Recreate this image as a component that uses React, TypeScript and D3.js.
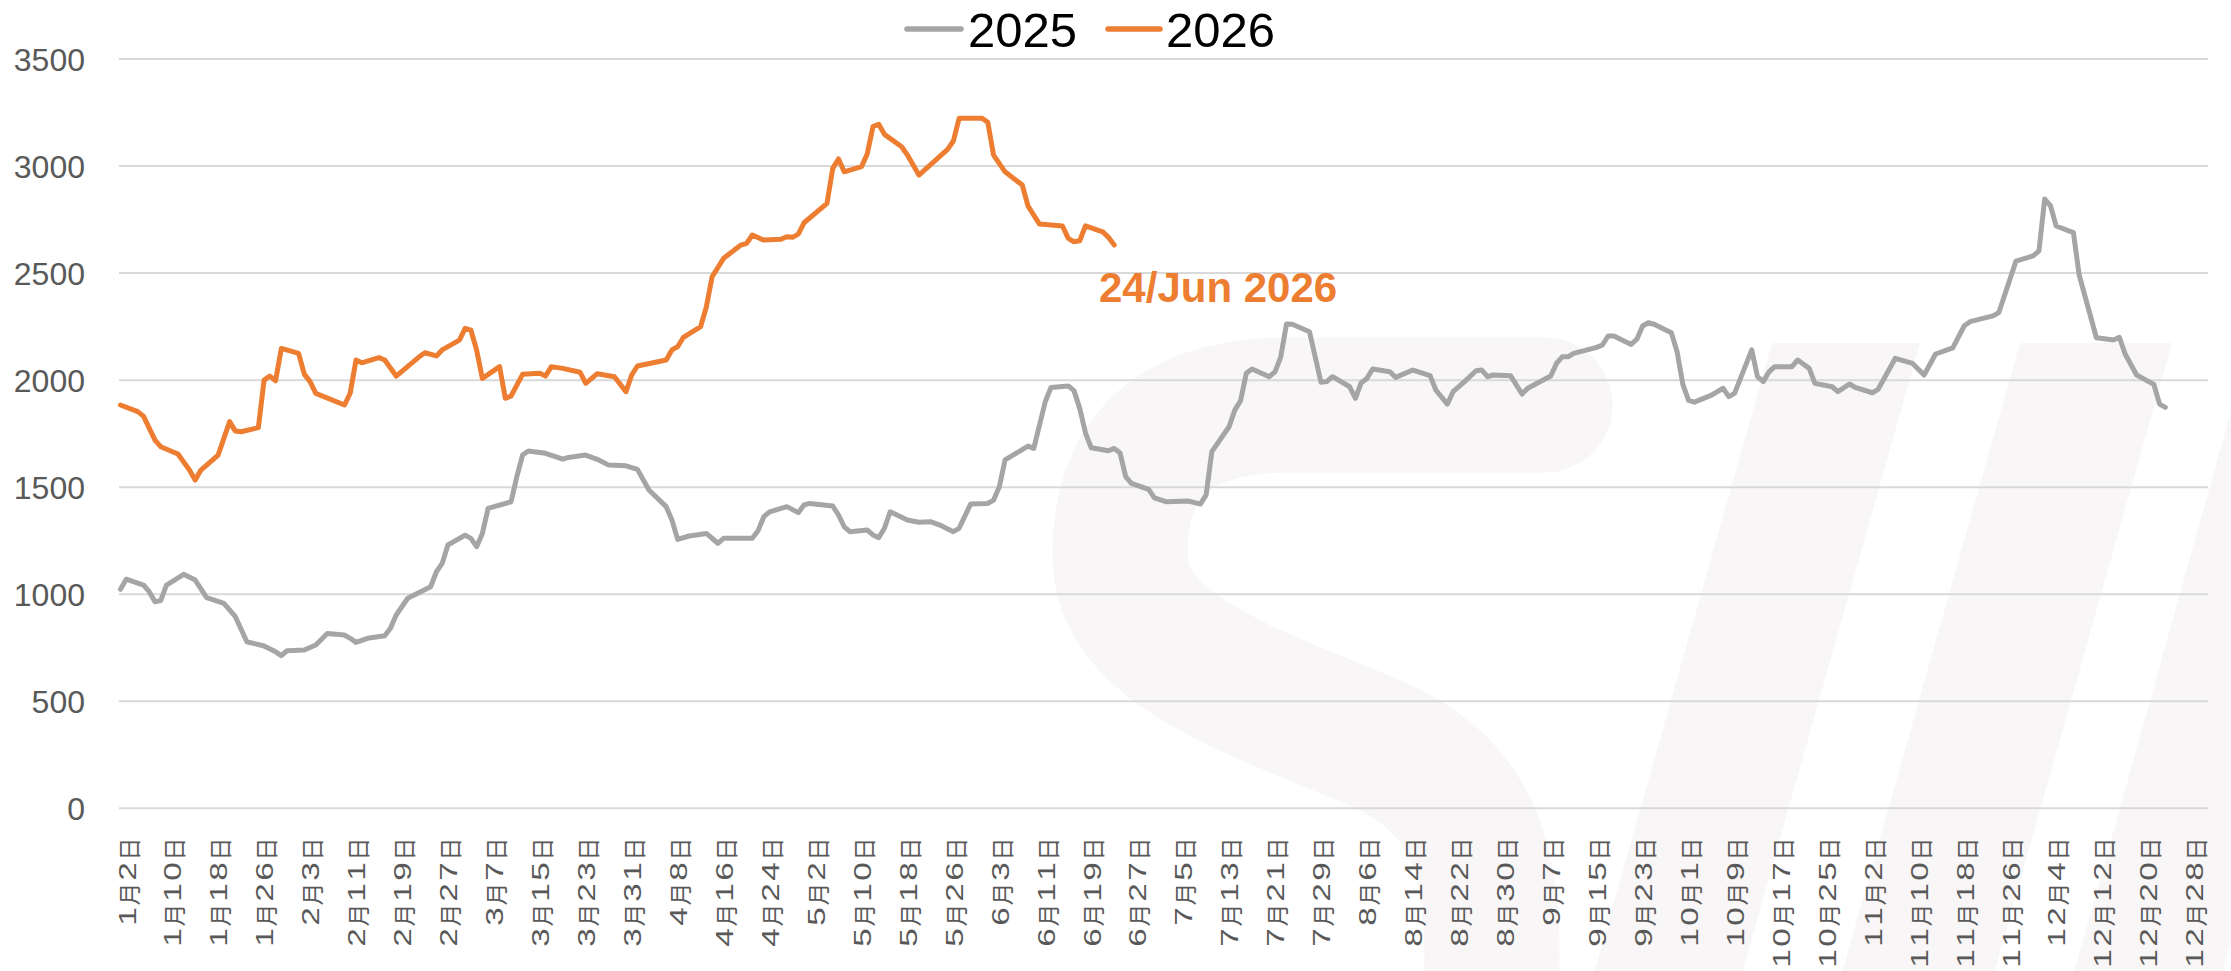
import React from 'react';
import * as d3 from 'd3';

const W = 2231;
const H = 971;

// ---------- data ----------
const dates2025 = [
  "1/2","1/3","1/6","1/7","1/8","1/9","1/10","1/13","1/15","1/17","1/20","1/22","1/24","1/27","1/29","1/30","1/31",
  "2/3","2/5","2/7","2/10","2/11","2/12","2/14","2/17","2/18","2/19","2/21","2/25","2/26","2/27","2/28",
  "3/3","3/4","3/5","3/6","3/7","3/11","3/12","3/13","3/14","3/17","3/20","3/21","3/24","3/26","3/28","3/31",
  "4/2","4/4","4/7","4/8","4/9","4/11","4/14","4/16","4/17","4/22","4/23","4/24","4/25","4/28","4/30",
  "5/1","5/2","5/6","5/7","5/8","5/9","5/12","5/13","5/14","5/15","5/16","5/19","5/21","5/23","5/25","5/27","5/28","5/29","5/30",
  "6/2","6/3","6/4","6/5","6/9","6/10","6/12","6/13","6/16","6/17","6/18","6/19","6/20","6/23","6/24","6/25","6/26","6/27","6/30",
  "7/1","7/3","7/7","7/9","7/10","7/11","7/14","7/15","7/16","7/17","7/18","7/21","7/22","7/23","7/24","7/25","7/28","7/30","7/31",
  "8/1","8/4","8/5","8/6","8/7","8/8","8/11","8/12","8/15","8/18","8/19","8/21","8/22","8/24","8/26","8/27","8/28","8/29",
  "9/1","9/3","9/4","9/8","9/9","9/10","9/11","9/12","9/16","9/17","9/18","9/19","9/22","9/23","9/24","9/25","9/26","9/29","9/30",
  "10/1","10/2","10/3","10/6","10/8","10/9","10/10","10/13","10/14","10/15","10/16","10/17","10/20","10/21","10/23","10/24","10/27","10/28","10/30","10/31",
  "11/3","11/4","11/7","11/10","11/12","11/14","11/17","11/19","11/20","11/24","11/25","11/28",
  "12/1","12/2","12/3","12/4","12/5","12/8","12/9","12/11","12/12","12/15","12/16","12/17","12/19","12/22","12/23","12/24",
];
const values2025 = [
  1023,1070,1043,1012,965,970,1043,1093,1066,984,957,895,778,758,731,713,736,
  739,763,817,809,794,775,794,806,841,903,981,1035,1105,1144,1230,
  1276,1261,1222,1284,1401,1432,1549,1650,1669,1658,1631,1639,1650,1630,1603,1600,
  1583,1487,1409,1347,1256,1272,1284,1238,1261,1261,1297,1362,1385,1409,1381,
  1417,1424,1412,1370,1315,1292,1300,1277,1264,1308,1385,1347,1336,1339,1319,1292,1308,1365,1421,
  1424,1440,1502,1627,1692,1681,1899,1966,1973,1951,1868,1754,1684,1670,1681,1661,1549,1518,1490,
  1450,1432,1435,1421,1463,1666,1782,1860,1904,2032,2052,2016,2039,2109,2262,2261,2226,1990,1993,
  2016,1969,1915,1988,2008,2052,2039,2013,2047,2021,1954,1888,1946,1993,2044,2047,2016,2024,
  2021,1935,1962,2019,2078,2109,2109,2125,2153,2164,2206,2206,2167,2191,2253,2268,2261,2221,2133,
  1980,1905,1897,1930,1962,1923,1938,2141,2016,1993,2039,2063,2063,2094,2055,1985,1969,1946,1982,1966,
  1941,1957,2102,2078,2024,2122,2151,2254,2273,2300,2315,2556,
  2580,2604,2846,2815,2720,2689,2491,2296,2198,2187,2200,2122,2024,1980,1888,1873,
];

const dates2026 = [
  "1/2","1/5","1/6","1/8","1/9","1/12","1/14","1/15","1/16","1/19","1/21","1/22","1/23","1/26","1/27","1/28","1/29","1/30",
  "2/2","2/3","2/4","2/5","2/10","2/11","2/12","2/13","2/16","2/17","2/19","2/23","2/24","2/26","2/27",
  "3/2","3/3","3/4","3/5","3/6","3/9","3/10","3/11","3/13","3/16","3/17","3/18","3/20","3/23","3/24","3/26","3/29","3/31",
  "4/1","4/2","4/7","4/8","4/9","4/10","4/13","4/14","4/15","4/17","4/20","4/21","4/22","4/24","4/27","4/28","4/29","4/30",
  "5/1","5/5","5/6","5/7","5/8","5/11","5/12","5/13","5/14","5/15","5/18","5/19","5/21","5/26","5/27","5/28",
  "6/1","6/2","6/3","6/5","6/8","6/9","6/11","6/15","6/16","6/17","6/18","6/19","6/22","6/23","6/24",
];
const values2026 = [
  1884,1853,1832,1720,1689,1655,1580,1533,1580,1650,1806,1762,1759,1778,2000,2019,1997,2148,
  2125,2028,1993,1938,1884,1940,2094,2081,2105,2094,2019,2109,2128,2113,2141,
  2187,2242,2234,2141,2008,2063,1915,1926,2027,2032,2019,2063,2055,2037,1985,2030,2016,1946,
  2024,2066,2094,2141,2156,2200,2250,2343,2483,2569,2631,2639,2678,2654,2658,2670,2667,2682,
  2735,2826,2989,3033,2973,2997,3056,3184,3195,3148,3090,3051,2958,3078,3117,3223,
  3223,3204,3051,2973,2911,2813,2729,2720,2662,2646,2651,2721,2693,2667,2631,
];

const yTicks = [0, 500, 1000, 1500, 2000, 2500, 3000, 3500];

const xTickLabels = [
  "1月2日","1月10日","1月18日","1月26日","2月3日","2月11日","2月19日","2月27日",
  "3月7日","3月15日","3月23日","3月31日","4月8日","4月16日","4月24日","5月2日",
  "5月10日","5月18日","5月26日","6月3日","6月11日","6月19日","6月27日","7月5日",
  "7月13日","7月21日","7月29日","8月6日","8月14日","8月22日","8月30日","9月7日",
  "9月15日","9月23日","10月1日","10月9日","10月17日","10月25日","11月2日","11月10日",
  "11月18日","11月26日","12月4日","12月12日","12月20日","12月28日",
];

const seriesNames = ["2025", "2026"];
const seriesColors = ["#A5A5A5", "#ED7D31"];
const annotationText = "24/Jun 2026";

// ---------- helpers ----------
const REF_YEAR = 2025;
const parseMD = (s: string) => {
  const [m, d] = s.split("/").map(Number);
  return new Date(Date.UTC(REF_YEAR, m - 1, d));
};
const parseLabel = (s: string) => {
  const m = s.match(/(\d+)月(\d+)日/)!;
  return new Date(Date.UTC(REF_YEAR, Number(m[1]) - 1, Number(m[2])));
};

const PLOT_LEFT = 119;
const PLOT_RIGHT = 2208;

const x = d3
  .scaleUtc()
  .domain([new Date(Date.UTC(REF_YEAR, 0, 2)), new Date(Date.UTC(REF_YEAR, 11, 28))])
  .range([120.5, 2188.3]);

const y = d3.scaleLinear().domain([0, 3500]).range([808.3, 59]);

const line = d3
  .line<{ date: Date; value: number }>()
  .x((d) => x(d.date))
  .y((d) => y(d.value));

const s2025 = dates2025.map((d, i) => ({ date: parseMD(d), value: values2025[i] }));
const s2026 = dates2026.map((d, i) => ({ date: parseMD(d), value: values2026[i] }));

const LABEL_FONT = "'Liberation Sans', 'Noto Sans CJK SC', sans-serif";
const DIGIT_ADV = 21;
const CJK_ADV = 24;
const DIGIT_SX = 1.45;
const LABEL_FS = 23;
const LABEL_TOP = 837;

function XLabel({ label, cx }: { label: string; cx: number }) {
  const chars = Array.from(label);
  const adv = chars.map((c) => (/\d/.test(c) ? DIGIT_ADV : CJK_ADV));
  const total = adv.reduce((a, b) => a + b, 0);
  const yBottom = LABEL_TOP + total;
  let s = 0;
  return (
    <g>
      {chars.map((c, i) => {
        const isD = /\d/.test(c);
        const glyphW = isD ? 0.556 * LABEL_FS * DIGIT_SX : LABEL_FS;
        const pad = (adv[i] - glyphW) / 2;
        const y0 = yBottom - s - pad;
        s += adv[i];
        return (
          <text
            key={i}
            transform={`translate(${cx},${y0}) rotate(-90) scale(${isD ? DIGIT_SX : 1},1)`}
            fontSize={LABEL_FS}
            fontFamily={isD ? "'Liberation Sans', sans-serif" : "'Noto Sans CJK SC', sans-serif"}
            fill="#595959"
            dominantBaseline="central"
          >
            {c}
          </text>
        );
      })}
    </g>
  );
}

const WM = "#F8F6F6";

export default function App() {
  return (
    <svg
      width={W}
      height={H}
      viewBox={`0 0 ${W} ${H}`}
      style={{ position: "absolute", left: 0, top: 0, background: "#fff" }}
    >
      <rect x={0} y={0} width={W} height={H} fill="#fff" />
      {/* watermark */}
      <g>
        <path
          d="M1545 405 L1290 405 C1160 405 1120 470 1120 555 C1120 650 1250 690 1380 745 C1475 790 1500 860 1490 1010"
          fill="none"
          stroke={WM}
          strokeWidth={135}
          strokeLinecap="round"
          strokeLinejoin="round"
        />
        <polygon points="1772,343 1920,343 1740,980 1592,980" fill={WM} />
        <polygon points="2020,343 2172,343 1992,980 1840,980" fill={WM} />
        <polygon points="2250,343 2400,343 2220,980 2072,980" fill={WM} />
      </g>

      {/* gridlines */}
      {yTicks.map((t) => (
        <line key={t} x1={PLOT_LEFT} x2={PLOT_RIGHT} y1={y(t)} y2={y(t)} stroke="#D9D9D9" strokeWidth={2} />
      ))}

      {/* y labels */}
      {yTicks.map((t) => (
        <text
          key={"yl" + t}
          x={85}
          y={y(t) + 11.5}
          textAnchor="end"
          fontSize={32}
          fontFamily={LABEL_FONT}
          fill="#595959"
        >
          {t}
        </text>
      ))}

      {/* x labels */}
      {xTickLabels.map((l) => (
        <XLabel key={l} label={l} cx={x(parseLabel(l)) + 7} />
      ))}

      {/* series */}
      <path d={line(s2025) || ""} fill="none" stroke={seriesColors[0]} strokeWidth={5} strokeLinejoin="round" strokeLinecap="round" />
      <path d={line(s2026) || ""} fill="none" stroke={seriesColors[1]} strokeWidth={5} strokeLinejoin="round" strokeLinecap="round" />

      {/* annotation */}
      <text x={1099} y={302} fontSize={42} fontWeight="bold" fontFamily="'Liberation Sans', Arial, sans-serif" fill="#ED7D31">
        {annotationText}
      </text>

      {/* legend */}
      <line x1={907} x2={961} y1={29} y2={29} stroke={seriesColors[0]} strokeWidth={5.5} strokeLinecap="round" />
      <text x={968} y={47} fontSize={49} fontFamily="'Liberation Sans', Arial, sans-serif" fill="#000">
        {seriesNames[0]}
      </text>
      <line x1={1108} x2={1160} y1={29} y2={29} stroke={seriesColors[1]} strokeWidth={5.5} strokeLinecap="round" />
      <text x={1166} y={47} fontSize={49} fontFamily="'Liberation Sans', Arial, sans-serif" fill="#000">
        {seriesNames[1]}
      </text>
    </svg>
  );
}
